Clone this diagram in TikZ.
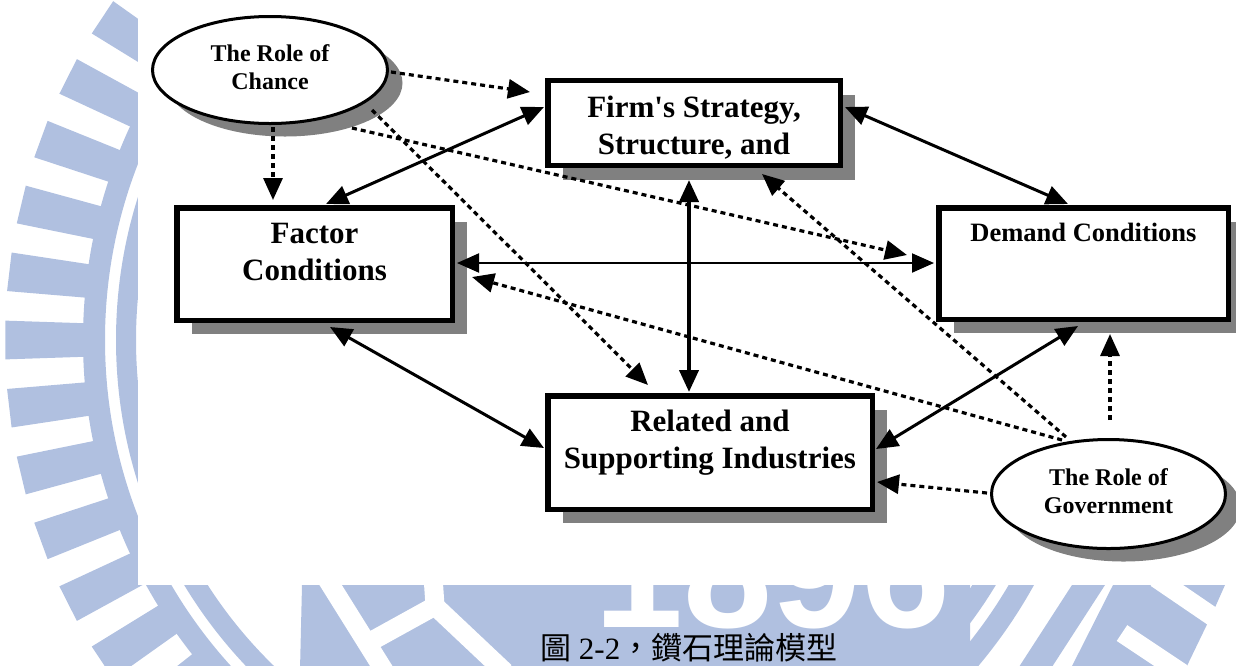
\documentclass[tikz,border=0pt]{standalone}
\usepackage{fontspec}
\setmainfont{Liberation Serif}
\newfontfamily\cjk{Noto Sans CJK TC}
\newfontfamily\wmfont{Liberation Sans}
\usetikzlibrary{arrows.meta,shapes.geometric,shadows,calc}
\definecolor{wm}{RGB}{176,192,224}
\definecolor{shadowgray}{RGB}{128,128,128}
\newcommand\padbox[3]{\raisebox{0pt}[\dimexpr\height+#1\relax][\dimexpr\depth+#2\relax]{#3}}
\begin{document}
\begin{tikzpicture}[x=1pt,y=-1pt,
  >={Triangle[length=22pt,width=19pt]},
  box/.style={draw=black, line width=5.5pt, fill=white, rectangle, inner sep=0pt,
    general shadow={fill=shadowgray, shadow xshift=15pt, shadow yshift=-14pt},
    font=\bfseries\fontsize{31}{37}\selectfont},
  oval/.style={draw=black, line width=3pt, fill=white, ellipse, inner sep=0pt,
    general shadow={fill=shadowgray, shadow xshift=15pt, shadow yshift=-13pt},
    font=\bfseries\fontsize{24}{28.5}\selectfont},
  link/.style={line width=3pt, <->},
  influence/.style={line width=3.2pt, dash pattern=on 5pt off 4pt, ->},
  wmstripe/.style={white, line width=19pt}
]
\useasboundingbox (0,0) rectangle (1236,665);
% ---- watermark ----
\begin{scope}
\clip (0,0) rectangle (1236,665);
\coordinate (O) at (590,340);
\fill[wm, even odd rule] (O) circle[radius=507pt] (O) circle[radius=485pt];
\fill[wm, even odd rule] (O) circle[radius=474pt] (O) circle[radius=454pt];
\foreach \k in {-7,...,7}{
  \pgfmathsetmacro\a{180+6.7*\k}
  \fill[wm] ($(O)+(\a-1.9:505)$) -- ($(O)+(\a-1.9:585)$) -- ($(O)+(\a+1.9:585)$) -- ($(O)+(\a+1.9:505)$) -- cycle;
}
\fill[wm] (302,585) -- (970,585) -- (970,670) -- (300,670) -- cycle;
\draw[wmstripe] (325,576) -- (385,672);
\draw[wmstripe] (433,576) -- (435,606) -- (368,643);
\draw[wmstripe] (435,606) -- (505,672);
\node[anchor=base west, inner sep=0pt, text=white, font=\wmfont\bfseries\fontsize{160}{160}\selectfont] (year) at (594,627) {1896};
\fill[wm] (1072,585) -- (1105,585) -- (1050,670) -- (1017,670) -- cycle;
\fill[wm] (1113,585) -- (1225,585) -- (1213,612) -- (1185,670) -- (1070,670) -- cycle;
\draw[wmstripe] (1156,578) -- (1222,623);
\draw[wmstripe] (1122,633) -- (1182,673);
\end{scope}
\fill[white] (138,-2) rectangle (1238,585);
% ---- nodes ----
\node[box, minimum width=275.5pt, minimum height=112.5pt] (factor) at (314.5,264)
  {\padbox{0pt}{18pt}{\begin{tabular}{@{}c@{}}Factor\\Conditions\end{tabular}}};
\node[box, minimum width=292.5pt, minimum height=84.5pt] (firm) at (694,123)
  {\padbox{11pt}{0pt}{\begin{tabular}{@{}c@{}}Firm\textquotesingle s Strategy,\\Structure, and\end{tabular}}};
\node[box, minimum width=289.5pt, minimum height=111.5pt, font=\bfseries\fontsize{26.5}{32}\selectfont] (demand) at (1083.5,263.5)
  {\padbox{0pt}{57pt}{\begin{tabular}{@{}c@{}}Demand Conditions\end{tabular}}};
\node[box, minimum width=324.5pt, minimum height=113.5pt] (related) at (710,452.5)
  {\padbox{0pt}{20pt}{\begin{tabular}{@{}c@{}}Related and\\Supporting Industries\end{tabular}}};
\node[oval, minimum width=235pt, minimum height=107pt] (chance) at (270,70)
  {\begin{tabular}{@{}c@{}}The Role of\\Chance\end{tabular}};
\node[oval, minimum width=234pt, minimum height=109pt] (gov) at (1108.5,494)
  {\begin{tabular}{@{}c@{}}The Role of\\Government\end{tabular}};
% ---- solid links ----
\draw[link] ($(factor)+(11.5,-60)$) -- ($(firm)+(-150,-16)$);
\draw[link] ($(firm)+(151,-16)$) -- ($(demand)+(-15.5,-59.5)$);
\draw[link, line width=2pt] ($(factor)+(142.5,-1)$) -- ($(demand)+(-149.5,-0.5)$);
\draw[link, line width=4pt] ($(firm)+(-5,57)$) -- ($(related)+(-21,-60.5)$);
\draw[link] ($(factor)+(15.5,63)$) -- ($(related)+(-166,-4.5)$);
\draw[link] ($(demand)+(-5.5,62.5)$) -- ($(related)+(166,-3.5)$);
% ---- dotted influences ----
\draw[influence] ($(chance)+(121,2)$) -- ($(firm)+(-164,-31)$);
\draw[influence] ($(chance)+(3,57)$) -- ($(factor)+(-41.5,-64)$);
\draw[influence] ($(chance)+(82,58)$) -- ($(demand)+(-176.5,-8.5)$);
\draw[influence] ($(chance)+(102,40)$) -- ($(related)+(-62,-67.5)$);
\draw[influence] ($(gov)+(1.5,-74)$) -- ($(demand)+(26.5,70.5)$);
\draw[influence] ($(gov)+(-121.5,-1)$) -- ($(related)+(167,29.5)$);
\draw[influence] ($(gov)+(-42.5,-57)$) -- ($(firm)+(68,51)$);
\draw[influence] ($(gov)+(-46.5,-54)$) -- ($(factor)+(157.5,13)$);
% ---- caption ----
\node[anchor=base west, inner sep=0pt, font=\fontsize{31}{31}\selectfont] (caption) at (540,659)
  {{\cjk 圖} 2-2{\cjk ，鑽石理論模型}};
\end{tikzpicture}
\end{document}
